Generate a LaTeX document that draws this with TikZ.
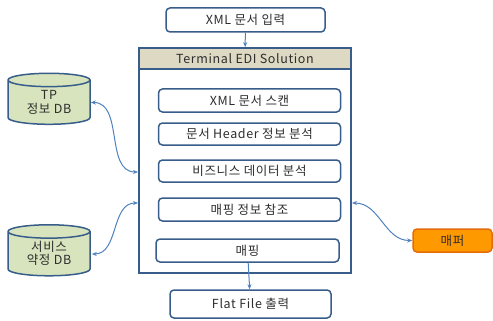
\documentclass[tikz,border=0pt]{standalone}
\usepackage{fontspec}
\setmainfont[LetterSpace=5]{Noto Sans CJK KR}
\usetikzlibrary{shapes.geometric,arrows.meta}
\definecolor{ediblue}{RGB}{56, 93, 138}
\definecolor{edilink}{RGB}{79, 129, 189}
\definecolor{edibeige}{RGB}{221, 217, 195}
\definecolor{edigreen}{RGB}{215, 228, 189}
\definecolor{ediorange}{RGB}{255, 153, 0}
\definecolor{edirim}{RGB}{228, 108, 10}
\definecolor{editext}{RGB}{45, 45, 45}
\newcommand{\dblabel}[2]{\raisebox{-4pt}[0pt][0pt]{\begin{tabular}{@{}c@{}}#1\\[-1pt]#2\end{tabular}}}
\tikzset{
  stage/.style={draw=ediblue, line width=1.5pt, rounded corners=4pt, fill=white, text=editext,
    minimum width=182pt, minimum height=23pt, inner sep=0pt, font=\fontsize{12.5}{14}\selectfont},
  dbnode/.style={cylinder, shape border rotate=90, aspect=0.3, draw=ediblue, line width=1.5pt,
    fill=edigreen, minimum width=82pt, minimum height=51pt, inner sep=0pt, text=editext,
    font=\fontsize{12.5}{14}\selectfont},
  link/.style={edilink, line width=1pt, {Stealth[length=5pt,width=4pt]}-{Stealth[length=5pt,width=4pt]}},
  flow/.style={edilink, line width=1pt, -{Stealth[length=5pt,width=4pt]}}
}
\begin{document}
\begin{tikzpicture}[x=1pt, y=-1pt]
  \useasboundingbox (0,0) rectangle (493,321);

  % Input and output
  \node[stage, minimum width=159pt, minimum height=24pt] (input) at (245.5,20) {XML 문서 입력};
  \node[stage, minimum width=161pt, minimum height=28pt] (output) at (250.5,304) {Flat File 출력};

  % Solution frame
  \node[draw=ediblue, line width=1.8pt, minimum width=212pt, minimum height=225pt, inner sep=0pt] (main) at (245,160.5) {};
  \node[draw=ediblue, line width=1.8pt, fill=edibeige, minimum width=212pt, minimum height=21pt, inner sep=0pt,
    text=editext, font=\fontsize{12.5}{14}\selectfont] (head) at (245,58.5) {Terminal EDI Solution};

  % Processing steps
  \node[stage] (scan) at (249.5,100.5) {XML 문서 스캔};
  \node[stage, minimum height=22pt] (header) at (249.5,134) {문서 Header 정보 분석};
  \node[stage, minimum height=22pt] (biz) at (249.5,171) {비즈니스 데이터 분석};
  \node[stage] (refer) at (249.5,209.5) {매핑 정보 참조};
  \node[stage, minimum width=183pt] (mapping) at (247.5,250.5) {매핑};

  % Data sources
  \node[dbnode] (tpdb) at (49,102.5) {\dblabel{TP}{정보 DB}};
  \node[dbnode] (svcdb) at (49,254) {\dblabel{서비스}{약정 DB}};
  \node[draw=edirim, line width=1.5pt, fill=ediorange, rounded corners=4pt, minimum width=79pt,
    minimum height=23pt, inner sep=0pt, text=editext, font=\fontsize{12.5}{14}\selectfont] (mapper) at (452.5,240.5) {매퍼};

  % Connectors
  \coordinate (tpin) at (138,172);
  \coordinate (svcin) at (138,203);
  \coordinate (mapin) at (352,203);
  \draw[flow] (input) -- (head);
  \draw[flow] (mapping) -- (output);
  \draw[link] (tpdb.east) to[out=0, in=180] (tpin);
  \draw[link] ([xshift=1pt]svcdb.east) to[out=0, in=180] (svcin);
  \draw[link] (mapin) to[out=0, in=180] (mapper.west);
\end{tikzpicture}
\end{document}
